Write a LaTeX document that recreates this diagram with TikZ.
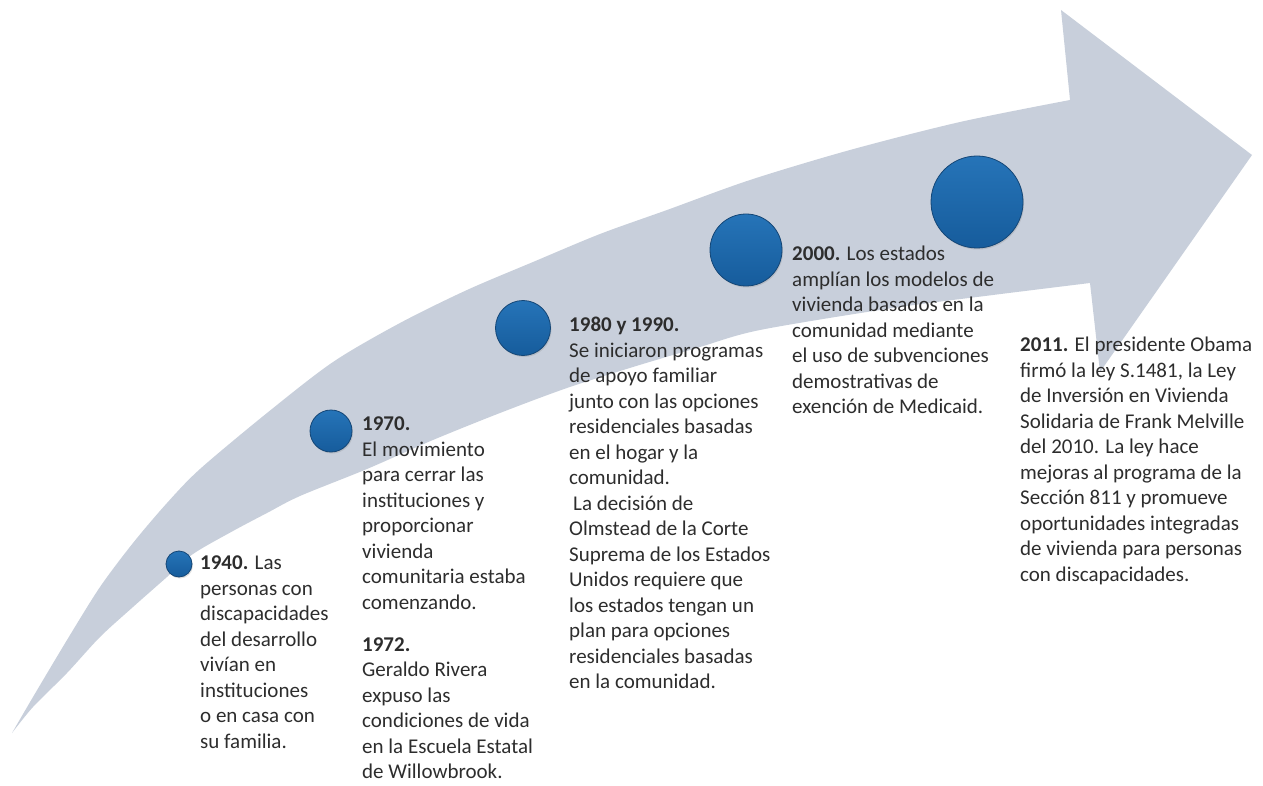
\documentclass[tikz,border=0pt]{standalone}
\usepackage{fontspec}
\setmainfont{Carlito}
\usetikzlibrary{shadows}
\definecolor{arrowgray}{RGB}{200,207,219}
\definecolor{balltop}{RGB}{38,116,184}
\definecolor{ballbot}{RGB}{22,92,156}
\definecolor{ballrim}{RGB}{20,70,118}
\definecolor{textgray}{RGB}{45,45,45}
\begin{document}
\begin{tikzpicture}[x=1pt, y=-1pt, year node/.style={circle,draw=ballrim,line width=0.8pt,top color=balltop,bottom color=ballbot,inner sep=0pt,drop shadow={opacity=0.25,shadow xshift=1pt,shadow yshift=-1.5pt}},info node/.style={anchor=north west,align=left,inner sep=0pt,text=textgray,font=\fontsize{21}{25.5}\selectfont,execute at begin node=\strut}]
\useasboundingbox (0,0) rectangle (1263,786);
% arrow
\fill[arrowgray] plot[smooth] coordinates {(12,733) (33,697) (67,640) (100,587) (133,543) (167,503) (200,469) (267,413) (333,362) (400,323) (467,290) (533,262) (600,234) (667,210) (750,180) (850,150) (960,122) (1070,100)}
  -- (1061,10) -- (1252,155) -- (1100,372) -- (1090,283)
  -- plot[smooth] coordinates {(1090,283) (993,295) (893,308) (760,330) (700,347) (633,367) (567,388) (500,413) (433,440) (367,469) (300,496) (267,513) (233,531) (193,554) (167,577) (133,607) (100,637) (67,673) (33,707) (12,733)} -- cycle;
\begin{scope}
\node[year node,minimum size=26pt] (b1940) at (179,564) {};%1940
\node[year node,minimum size=42pt] (b1970) at (331,431) {};%1970
\node[year node,minimum size=55pt] (b1980) at (523,328) {};%1980
\node[year node,minimum size=72pt] (b2000) at (746,250) {};%2000
\node[year node,minimum size=92pt] (b2011) at (977,202) {};%2011
\end{scope}
\begin{scope}
\node[info node] (t1940) at (200,556) {\textbf{1940.} Las\\personas con\\discapacidades\\del desarrollo\\vivían en\\instituciones\\o en casa con\\su familia.};
\node[info node] (t1970) at (362,417) {\textbf{1970.}\\El movimiento\\para cerrar las\\instituciones y\\proporcionar\\vivienda\\comunitaria estaba\\comenzando.\\[16.5pt]\textbf{1972.}\\Geraldo Rivera\\expuso las\\condiciones de vida\\en la Escuela Estatal\\de Willowbrook.};
\node[info node] (t1980) at (569,317) {\textbf{1980 y 1990.}\\Se iniciaron programas\\de apoyo familiar\\junto con las opciones\\residenciales basadas\\en el hogar y la\\comunidad.\\\hspace*{4pt}La decisión de\\Olmstead de la Corte\\Suprema de los Estados\\Unidos requiere que\\los estados tengan un\\plan para opciones\\residenciales basadas\\en la comunidad.};
\node[info node] (t2000) at (792,246) {\textbf{2000.} Los estados\\amplían los modelos de\\vivienda basados en la\\comunidad mediante\\el uso de subvenciones\\demostrativas de\\exención de Medicaid.};
\node[info node] (t2011) at (1020,337) {\textbf{2011.} El presidente Obama\\firmó la ley S.1481, la Ley\\de Inversión en Vivienda\\Solidaria de Frank Melville\\del 2010. La ley hace\\mejoras al programa de la\\Sección 811 y promueve\\oportunidades integradas\\de vivienda para personas\\con discapacidades.};
\end{scope}
\end{tikzpicture}
\end{document}
